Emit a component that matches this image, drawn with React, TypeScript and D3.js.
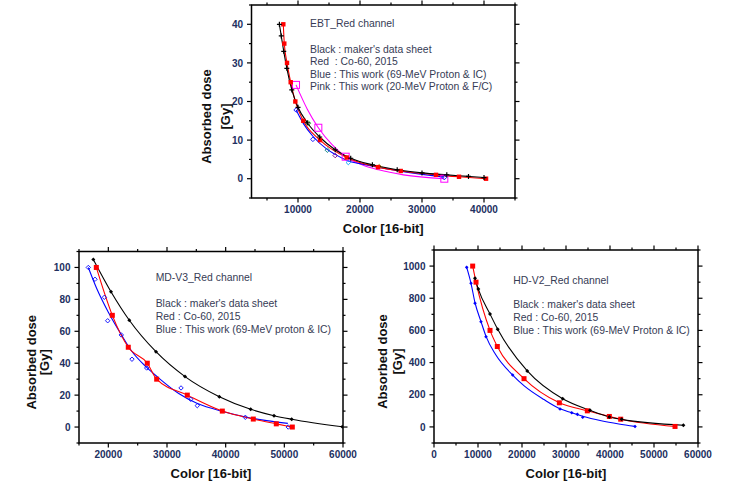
import * as d3 from 'd3';
import React from 'react';

type Pt = [number, number];

// ---- EBT_Red channel (top) ----
const ebtBlack: Pt[] = [
  [7000, 40], [7300, 37], [7700, 33], [8200, 28.6], [9000, 23], [10000, 18.5],
  [11500, 14.5], [13500, 10.8], [16000, 7.5], [18500, 5.3], [22000, 3.6],
  [26000, 2.3], [30000, 1.5], [34000, 1], [37500, 0.6], [40000, 0.3],
];
const ebtRed: Pt[] = [
  [7630, 40], [7790, 35], [8230, 30], [8820, 25], [9570, 20], [10860, 15],
  [13550, 10], [17850, 5.5], [22900, 3], [26570, 2], [32260, 1], [35970, 0.5], [40330, 0],
];
const ebtBlue: Pt[] = [
  [9700, 17.8], [11660, 14.4], [12400, 10.2], [14730, 7.4], [16000, 6],
  [18120, 4.2], [23110, 3.1], [33600, 0.3],
];
const ebtBlueColors = ['#0000ff', '#008000', '#0000ff', '#008080', '#800080', '#00a0ff', '#808000', '#0000ff'];
const ebtBlueFit: Pt[] = [
  [9700, 17.8], [10900, 14.2], [12400, 11], [14700, 7.6], [16000, 6.3], [18100, 4.6],
  [20000, 3.9], [23100, 2.9], [27500, 1.7], [33600, 0.4],
];
const ebtPink: Pt[] = [[9680, 24.3], [13280, 13.2], [17690, 5.7], [33600, 0]];
const ebtPinkFit: Pt[] = [
  [9680, 24.3], [11500, 18], [13280, 13.2], [15500, 8.8], [17690, 5.7], [20500, 3.5],
  [23000, 2.3], [27000, 1], [33600, 0],
];
const ebtXTicks = [10000, 20000, 30000, 40000];
const ebtYTicks = [0, 10, 20, 30, 40];
const ebtLegend = [
  'EBT_Red channel',
  "Black : maker's data sheet",
  'Red  : Co-60, 2015',
  'Blue : This work (69-MeV Proton & IC)',
  'Pink : This work (20-MeV Proton & F/C)',
];

// ---- MD-V3_Red channel (bottom left) ----
const mdBlack: Pt[] = [
  [17440, 105], [20450, 84.8], [23580, 66.9], [28120, 47.2], [33070, 31.6],
  [38920, 19], [44260, 11.1], [48240, 7.1], [51250, 4.9], [59880, 0.2],
];
const mdRed: Pt[] = [
  [17950, 100], [20680, 70], [23400, 50], [26640, 40], [28240, 30], [33460, 20],
  [39430, 10], [44710, 5], [48630, 2], [51360, 0],
];
const mdBlue: Pt[] = [
  [16590, 100], [17730, 92.6], [19320, 81.3], [19890, 66.6], [22210, 57.7], [24030, 42.5],
  [26540, 37], [32390, 24.5], [34040, 17.4], [35160, 13.4], [43350, 6.1], [50670, 0],
];
const mdBlueFit: Pt[] = [
  [16590, 100], [18000, 87], [20000, 72], [22200, 58], [24000, 47.5], [26500, 37.5],
  [28500, 31], [32000, 21], [35000, 15], [40000, 9.3], [43400, 6.3], [47000, 4], [50600, 2.3],
];
const mdXTicks = [20000, 30000, 40000, 50000, 60000];
const mdYTicks = [0, 20, 40, 60, 80, 100];
const mdLegend = [
  'MD-V3_Red channel',
  "Black : maker's data sheet",
  'Red : Co-60, 2015',
  'Blue : This work (69-MeV proton & IC)',
];

// ---- HD-V2_Red channel (bottom right) ----
const hdBlack: Pt[] = [
  [9320, 924], [10070, 857], [12730, 702], [14480, 607], [21200, 348], [29250, 175],
  [35460, 103], [39850, 62], [42660, 47], [56670, 10],
];
const hdRed: Pt[] = [
  [8790, 1000], [9550, 900], [12730, 600], [14390, 500], [20460, 300], [28490, 150],
  [34850, 100], [39850, 65], [42430, 48], [54780, 3],
];
const hdBlue: Pt[] = [
  [7430, 992], [8410, 893], [9320, 769], [10680, 654], [11820, 561], [17880, 323],
  [28640, 111], [31300, 88], [32580, 78], [33800, 60], [45690, 3],
];
const hdBlueFit: Pt[] = [
  [7430, 992], [8410, 893], [9320, 772], [10680, 655], [11820, 563], [14000, 450],
  [17880, 322], [20500, 255], [25000, 170], [28640, 113], [31300, 88], [33800, 66],
  [38000, 38], [42000, 18], [45690, 3],
];
const hdXTicks = [0, 10000, 20000, 30000, 40000, 50000, 60000];
const hdYTicks = [0, 200, 400, 600, 800, 1000];
const hdLegend = [
  'HD-V2_Red channel',
  "Black : maker's data sheet",
  'Red : Co-60, 2015',
  'Blue : This work (69-MeV Proton & IC)',
];

const FONT = '"Liberation Sans", Arial, sans-serif';
const TICK_COLOR = '#22305f';
const LEGEND_COLOR = '#363b55';

type Series = {
  line: Pt[];
  points: Pt[];
  color: string;
  marker: 'plus' | 'square' | 'diamond' | 'open-square' | 'open-diamond';
  size: number;
  colors?: string[];
};

function Marker({ x, y, type, size, color }: { x: number; y: number; type: Series['marker']; size: number; color: string }) {
  const s = size;
  if (type === 'plus')
    return <path d={`M${x - s},${y}H${x + s}M${x},${y - s}V${y + s}`} stroke={color} strokeWidth={1.2} />;
  if (type === 'square') return <rect x={x - s} y={y - s} width={2 * s} height={2 * s} fill={color} />;
  if (type === 'open-square')
    return <rect x={x - s} y={y - s} width={2 * s} height={2 * s} fill="none" stroke={color} strokeWidth={1} />;
  const d = `M${x},${y - s}L${x + s},${y}L${x},${y + s}L${x - s},${y}Z`;
  if (type === 'diamond') return <path d={d} fill={color} />;
  return <path d={d} fill="none" stroke={color} strokeWidth={0.9} />;
}

function Panel({
  frame, xDomain, yDomain, xTicks, yTicks, xMinorStep, yMinorStep, legend, legendPos,
  series, titleX,
}: {
  frame: { x: number; y: number; w: number; h: number };
  xDomain: [number, number];
  yDomain: [number, number];
  xTicks: number[];
  yTicks: number[];
  xMinorStep: number;
  yMinorStep: number;
  legend: string[];
  legendPos: { x: number; y: number; gap: number; step: number };
  series: Series[];
  titleX: [number, number];
}) {
  const x = d3.scaleLinear().domain(xDomain).range([frame.x, frame.x + frame.w]);
  const y = d3.scaleLinear().domain(yDomain).range([frame.y + frame.h, frame.y]);
  const xMinor = d3.range(Math.ceil(xDomain[0] / xMinorStep) * xMinorStep, xDomain[1] + 1, xMinorStep)
    .filter(v => !xTicks.includes(v));
  const yMinor = d3.range(Math.ceil(yDomain[0] / yMinorStep) * yMinorStep, yDomain[1] + 1e-9, yMinorStep)
    .filter(v => !yTicks.includes(v));
  const line = d3.line<Pt>().x(d => x(d[0])).y(d => y(d[1])).curve(d3.curveMonotoneX);
  const left = frame.x, right = frame.x + frame.w, top = frame.y, bottom = frame.y + frame.h;
  const cy = top + frame.h / 2 + 15;
  const maj = 4.5, min = 2.5;

  return (
    <g>
      <defs>
        <clipPath id={`clip-${frame.x}-${frame.y}`}>
          <rect x={left} y={top} width={frame.w} height={frame.h} />
        </clipPath>
      </defs>
      <g clipPath={`url(#clip-${frame.x}-${frame.y})`}>
        {series.map((s, i) => (
          <path key={i} d={line(s.line) ?? ''} fill="none" stroke={s.color} strokeWidth={1.1} />
        ))}
        {series.map((s, i) =>
          s.points.map((p, j) => (
            <Marker key={`${i}-${j}`} x={x(p[0])} y={y(p[1])} type={s.marker} size={s.size}
              color={s.colors ? s.colors[j] : s.color} />
          ))
        )}
      </g>
      <rect x={left} y={top} width={frame.w} height={frame.h} fill="none" stroke="#000" strokeWidth={1.5} />
      {/* ticks on all four sides, pointing outward */}
      {xTicks.map(v => (
        <g key={`xt${v}`}>
          <line x1={x(v)} x2={x(v)} y1={bottom} y2={bottom + maj} stroke="#000" strokeWidth={1.2} />
          <line x1={x(v)} x2={x(v)} y1={top} y2={top - maj} stroke="#000" strokeWidth={1.2} />
          <text x={x(v)} y={bottom + 14.5} textAnchor="middle" fontSize={10} fontWeight="bold"
            fontFamily={FONT} fill={TICK_COLOR}>{v}</text>
        </g>
      ))}
      {xMinor.map(v => (
        <g key={`xm${v}`}>
          <line x1={x(v)} x2={x(v)} y1={bottom} y2={bottom + min} stroke="#000" strokeWidth={1.2} />
          <line x1={x(v)} x2={x(v)} y1={top} y2={top - min} stroke="#000" strokeWidth={1.2} />
        </g>
      ))}
      {yTicks.map(v => (
        <g key={`yt${v}`}>
          <line x1={left} x2={left - maj} y1={y(v)} y2={y(v)} stroke="#000" strokeWidth={1.2} />
          <line x1={right} x2={right + maj} y1={y(v)} y2={y(v)} stroke="#000" strokeWidth={1.2} />
          <text x={left - 8.5} y={y(v) + 3.6} textAnchor="end" fontSize={10} fontWeight="bold"
            fontFamily={FONT} fill={TICK_COLOR}>{v}</text>
        </g>
      ))}
      {yMinor.map(v => (
        <g key={`ym${v}`}>
          <line x1={left} x2={left - min} y1={y(v)} y2={y(v)} stroke="#000" strokeWidth={1.2} />
          <line x1={right} x2={right + min} y1={y(v)} y2={y(v)} stroke="#000" strokeWidth={1.2} />
        </g>
      ))}
      <text x={(left + right) / 2} y={bottom + 35} textAnchor="middle" fontSize={13} fontWeight="bold"
        fontFamily={FONT} fill="#111">Color [16-bit]</text>
      <text transform={`translate(${left - titleX[0]},${cy}) rotate(-90)`} textAnchor="middle" fontSize={13}
        fontWeight="bold" fontFamily={FONT} fill="#111">Absorbed dose</text>
      <text transform={`translate(${left - titleX[1]},${cy}) rotate(-90)`} textAnchor="middle" fontSize={13}
        fontWeight="bold" fontFamily={FONT} fill="#111">[Gy]</text>
      {legend.map((t, i) => (
        <text key={t} x={legendPos.x} y={legendPos.y + (i === 0 ? 0 : legendPos.gap + (i - 1) * legendPos.step)}
          fontSize={10.4} fontFamily={FONT} fill={LEGEND_COLOR} style={{ whiteSpace: 'pre' }}>{t}</text>
      ))}
    </g>
  );
}

export default function App() {
  return (
    <svg width={733} height={501} style={{ position: 'absolute', left: 0, top: 0, background: '#fff' }}>
      <rect width={733} height={501} fill="#fff" />
      <Panel
        frame={{ x: 251.5, y: 5, w: 263.5, h: 193 }}
        xDomain={[2500, 45000]}
        yDomain={[-5, 45]}
        xTicks={ebtXTicks}
        yTicks={ebtYTicks}
        xMinorStep={5000}
        yMinorStep={5}
        legend={ebtLegend}
        legendPos={{ x: 310, y: 26.5, gap: 26, step: 12.6 }}
        titleX={[40.5, 22]}
        series={[
          { line: ebtPinkFit, points: ebtPink, color: '#ff00ff', marker: 'open-square', size: 3.5 },
          { line: ebtBlueFit, points: ebtBlue, color: '#0000ff', marker: 'open-diamond', size: 2.3, colors: ebtBlueColors },
          { line: ebtRed, points: ebtRed, color: '#ff0000', marker: 'square', size: 2.2 },
          { line: ebtBlack, points: ebtBlack, color: '#000000', marker: 'plus', size: 2.5 },
        ]}
      />
      <Panel
        frame={{ x: 79, y: 251.5, w: 264, h: 191.5 }}
        xDomain={[15000, 60000]}
        yDomain={[-10, 110]}
        xTicks={mdXTicks}
        yTicks={mdYTicks}
        xMinorStep={5000}
        yMinorStep={10}
        legend={mdLegend}
        legendPos={{ x: 155.7, y: 281, gap: 26, step: 13 }}
        titleX={[43.5, 30]}
        series={[
          { line: mdBlueFit, points: mdBlue, color: '#0000ff', marker: 'open-diamond', size: 2.2 },
          { line: mdRed, points: mdRed, color: '#ff0000', marker: 'square', size: 2.5 },
          { line: mdBlack, points: mdBlack, color: '#000000', marker: 'diamond', size: 2 },
        ]}
      />
      <Panel
        frame={{ x: 434, y: 250, w: 264, h: 193 }}
        xDomain={[0, 60000]}
        yDomain={[-100, 1100]}
        xTicks={hdXTicks}
        yTicks={hdYTicks}
        xMinorStep={5000}
        yMinorStep={100}
        legend={hdLegend}
        legendPos={{ x: 513.3, y: 283.5, gap: 24.5, step: 13.2 }}
        titleX={[47.5, 32.5]}
        series={[
          { line: hdBlueFit, points: hdBlue, color: '#0000ff', marker: 'diamond', size: 1.8 },
          { line: hdRed, points: hdRed, color: '#ff0000', marker: 'square', size: 2.5 },
          { line: hdBlack, points: hdBlack, color: '#000000', marker: 'diamond', size: 2 },
        ]}
      />
    </svg>
  );
}
